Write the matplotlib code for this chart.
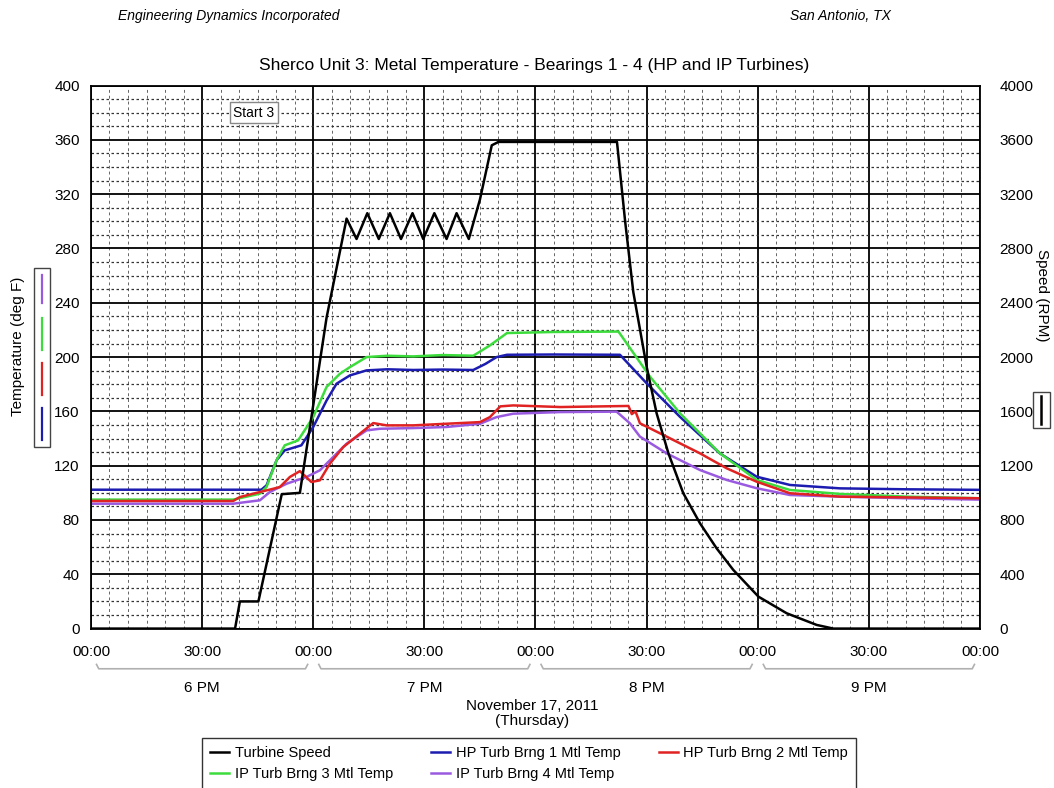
"""
Sherco Unit 3 bearing metal temperatures vs turbine speed
"""

import matplotlib
matplotlib.use("Agg")
import matplotlib.pyplot as plt
from matplotlib.lines import Line2D
from matplotlib.patches import Rectangle

plt.rcParams['font.family'] = ['Liberation Sans', 'DejaVu Sans']

# # time axis: minutes after 6 PM
speed_t = [0, 38.9, 40.2, 45.2, 51.5, 56.4, 63.6, 69.0, 71.7, 74.6, 77.7, 80.7,
           83.7, 86.8, 89.7, 92.7, 96.0, 98.7, 102.0, 105.0, 108.2, 110.0, 142.0,
           144.2, 146.4, 150.0, 152.7, 155.9, 159.9, 164.4, 168.9, 173.4, 180.2,
           187.8, 195.9, 200.4, 240]
speed = [0, 0, 200, 200, 990, 1000, 2290, 3020, 2870, 3060, 2870, 3060,
         2870, 3060, 2870, 3060, 2870, 3060, 2870, 3160, 3560, 3585, 3585,
         3000, 2480, 1930, 1586, 1290, 997, 776, 591, 432, 235,
         113, 27, 0, 0]

hp1_t = [0, 46, 47.4, 50.1, 52.3, 56.8, 60, 63.6, 66.3, 69.9, 74.4, 80, 87, 95,
         103.2, 106.5, 109.5, 112.3, 125, 142.8, 150, 159, 169.8, 179.7, 188.7,
         202.2, 220.2, 240]
hp1 = [102.3, 102.3, 105.5, 124, 131.3, 135, 148.5, 168, 180.4, 186.5, 190.2,
       191, 190.5, 190.8, 190.5, 195, 200, 201.7, 201.9, 201.7, 180.7, 156, 129,
       111.9, 105.8, 103.3, 102.6, 102.2]

hp2_t = [0, 38.4, 40.2, 45.6, 49.2, 51, 53.7, 56.4, 59.5, 61.8, 64.5, 68.1,
         72.6, 76.2, 79.8, 87, 96, 105, 107.7, 110.5, 114, 126.7, 145.1, 146,
         147, 148.2, 155.4, 164.4, 171.6, 179.7, 188.7, 202.2, 240]
hp2 = [94, 94, 96.9, 100.6, 103, 104.3, 111.7, 116, 108, 109.2, 121.5, 133.7,
       143.6, 151.4, 149.7, 149.7, 150.9, 152.1, 155.8, 163.7, 164.4, 163.2,
       164, 158, 160, 151.2, 141.4, 129.1, 118.1, 108.2, 99.7, 97.2, 96]

ip3_t = [0, 38.4, 45.6, 47.4, 50.1, 52.3, 55.9, 60, 63.6, 67.2, 69.9, 74.4, 80,
         87, 95, 103.2, 107.7, 112.3, 125, 142.4, 150.9, 159, 169.8, 179.7,
         188.7, 202.2, 220.2, 240]
ip3 = [95, 95, 99.4, 104.3, 124, 135, 138.6, 155.8, 178, 187.7, 192.6, 200,
       201, 200.5, 201.5, 201, 208.6, 217.7, 218.5, 218.8, 185.6, 158.6, 129.1,
       109.5, 102.1, 99.2, 97.2, 96]

ip4_t = [0, 38.4, 45.6, 48.3, 52.8, 58.2, 61.8, 65.4, 69, 74.4, 78, 87, 96, 105,
         109.5, 114, 126.7, 141.9, 145.5, 148.2, 155.4, 164.4, 171.6, 179.7,
         188.7, 202.2, 220.2, 240]
ip4 = [92, 92, 94.5, 100.6, 106.7, 111.7, 116.6, 126.4, 136.2, 146, 147.2,
       147.7, 148.5, 150.9, 155.8, 158.3, 159.5, 159.8, 151.2, 141.4, 129.1,
       116.8, 109.5, 103.4, 98.4, 97.2, 96, 95]

hour_labels = ["6 PM", "7 PM", "8 PM", "9 PM"]
xtick_labels = ["00:00", "30:00"] * 4 + ["00:00"]

c_blue = "#1c1cb0"
c_red = "#e02222"
c_green = "#3ddc3d"
c_purple = "#9a5ae0"

fig = plt.figure(figsize=(10.54, 7.88), dpi=100)
ax = fig.add_axes([0.0863, 0.2023, 0.8435, 0.6891])
ax2 = ax.twinx()

# grid
ax.set_xlim(0, 240)
ax.set_ylim(0, 400)
ax.set_xticks(range(0, 241, 30))
ax.set_xticks(range(0, 241, 5), minor=True)
ax.set_yticks(range(0, 401, 40))
ax.set_yticks(range(0, 401, 10), minor=True)
ax.grid(which='major', color='black', lw=1.3)
ax.grid(which='minor', axis='x', color='#666666', lw=0.7, linestyle=(0, (3, 3)))
ax.grid(which='minor', axis='y', color='#333333', lw=0.9, linestyle=(0, (2, 2)))
ax.set_axisbelow(True)
ax.set_xticklabels(xtick_labels, fontsize=11)
ax.tick_params(which='both', length=0)
ax.tick_params(axis='x', pad=12)
ax.tick_params(axis='y', labelsize=11, pad=8)
for s in ax.spines.values():
    s.set_linewidth(1.3)

ax2.set_ylim(0, 4000)
ax2.set_yticks(range(0, 4001, 400))
ax2.tick_params(length=0, labelsize=11, pad=14)
for s in ax2.spines.values():
    s.set_visible(False)

# series
ln_hp1, = ax.plot(hp1_t, hp1, color=c_blue, lw=1.8, label="HP Turb Brng 1 Mtl Temp")
ln_ip3, = ax.plot(ip3_t, ip3, color=c_green, lw=1.8, label="IP Turb Brng 3 Mtl Temp")
ln_ip4, = ax.plot(ip4_t, ip4, color=c_purple, lw=1.8, label="IP Turb Brng 4 Mtl Temp")
ln_hp2, = ax.plot(hp2_t, hp2, color=c_red, lw=1.8, label="HP Turb Brng 2 Mtl Temp")
ln_spd, = ax2.plot(speed_t, speed, color='black', lw=1.8, label="Turbine Speed")

ax.text(44, 380, "Start 3", fontsize=10, ha='center', va='center',
        bbox=dict(boxstyle='square,pad=0.25', fc='white', ec='#888888', lw=1))

# hour brackets under the time axis
tr = ax.get_xaxis_transform()
for i, lab in enumerate(hour_labels):
    x0 = i * 60 + 1.5
    x1 = i * 60 + 58.5
    ax.plot([x0, x0 + 0.6, x1 - 0.6, x1], [-0.066, -0.074, -0.074, -0.066],
            transform=tr, clip_on=False, color='#b0b0b0', lw=1.2)
    ax.text(i * 60 + 30, -0.11, lab, transform=tr, ha='center', va='center',
            fontsize=11)

fig.text(0.505, 0.104, "November 17, 2011", ha='center', va='center', fontsize=11)
fig.text(0.505, 0.085, "(Thursday)", ha='center', va='center', fontsize=11)

# header and title
fig.text(0.112, 0.980, "Engineering Dynamics Incorporated", fontsize=10,
         style='italic', ha='left', va='center')
fig.text(0.845, 0.980, "San Antonio, TX", fontsize=10, style='italic',
         ha='right', va='center')
fig.text(0.507, 0.917, "Sherco Unit 3: Metal Temperature - Bearings 1 - 4 (HP and IP Turbines)",
         fontsize=12.5, ha='center', va='center')

# axis labels with line keys
fig.text(0.017, 0.56, "Temperature (deg F)", rotation=90, fontsize=11,
         ha='center', va='center')
fig.add_artist(Rectangle((0.0325, 0.433), 0.0152, 0.227, transform=fig.transFigure,
                         fill=False, ec='#444444', lw=1))
for col, (ya, yb) in zip([c_purple, c_green, c_red, c_blue],
                         [(0.616, 0.651), (0.556, 0.597), (0.499, 0.539), (0.442, 0.482)]):
    fig.add_artist(Line2D([0.0400, 0.0400], [ya, yb], transform=fig.transFigure,
                          color=col, lw=1.6))

fig.text(0.989, 0.625, "Speed (RPM)", rotation=270, fontsize=11,
         ha='center', va='center')
fig.add_artist(Rectangle((0.980, 0.457), 0.016, 0.045, transform=fig.transFigure,
                         fill=False, ec='#444444', lw=1))
fig.add_artist(Line2D([0.988, 0.988], [0.462, 0.497], transform=fig.transFigure,
                      color='black', lw=1.8))

# legend, filled column-wise so it reads row-wise
handles = [ln_spd, ln_ip3, ln_hp1, ln_ip4, ln_hp2]
leg = fig.legend(handles=handles, labels=[h.get_label() for h in handles],
                 loc='upper center', bbox_to_anchor=(0.502, 0.073), ncol=3,
                 fontsize=10.5, frameon=True, fancybox=False, edgecolor='black',
                 handlelength=1.3, handletextpad=0.4, columnspacing=2.6,
                 borderpad=0.55, labelspacing=0.5)
leg.get_frame().set_linewidth(1.0)

fig.savefig("out.png", dpi=100)
